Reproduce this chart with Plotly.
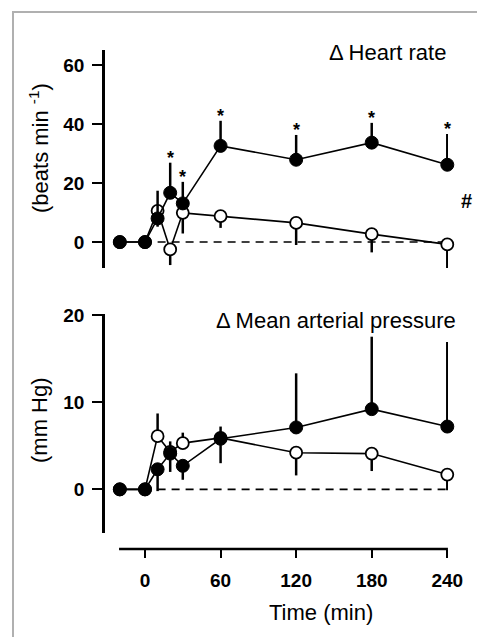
import plotly.graph_objects as go

# ---- data ----
time_min = [-20, 0, 10, 20, 30, 60, 120, 180, 240]

hr_filled = [0, 0, 8.0, 16.7, 13.1, 32.6, 27.9, 33.7, 26.2]
hr_filled_err_up = [0, 0, 9.4, 10.2, 7.3, 8.5, 8.4, 6.7, 10.4]
hr_open = [0, 0, 10.6, -2.5, 9.9, 8.8, 6.5, 2.7, -0.8]
hr_open_err_down = [0, 0, 5.4, 5.3, 7.0, 4.0, 7.5, 6.2, 8.1]

map_filled = [0, 0, 2.3, 4.1, 2.7, 5.8, 7.1, 9.2, 7.2]
map_filled_err_up = [0, 0, 0, 1.4, 0, 1.4, 6.2, 8.3, 9.7]
map_filled_err_down = [0, 0, 2.5, 2.1, 1.6, 0, 0, 0, 0]
map_open = [0, 0, 6.1, 4.3, 5.3, 5.9, 4.2, 4.1, 1.7]
map_open_err_up = [0, 0, 2.6, 0, 1.2, 0, 0, 0, 0]
map_open_err_down = [0, 0, 0, 0, 0, 2.9, 2.6, 2.0, 1.8]

star_times = [20, 30, 60, 120, 180, 240]
x_ticks = [0, 60, 120, 180, 240]

FONT = "Liberation Sans, Arial, sans-serif"

fig = go.Figure()

def err(plus, minus):
    return dict(type="data", symmetric=False, array=plus, arrayminus=minus,
                color="black", thickness=2.5, width=0)

zeros = [0] * len(time_min)
open_marker = dict(symbol="circle", size=12, color="white", line=dict(color="black", width=1.8))
filled_marker = dict(symbol="circle", size=13, color="black", line=dict(color="black", width=1))
line_style = dict(color="black", width=1.6)

# top panel
fig.add_trace(go.Scatter(x=time_min, y=hr_open, mode="lines+markers", marker=open_marker,
                         line=line_style, error_y=err(zeros, hr_open_err_down),
                         xaxis="x", yaxis="y", cliponaxis=False, showlegend=False))
fig.add_trace(go.Scatter(x=time_min, y=hr_filled, mode="lines+markers", marker=filled_marker,
                         line=line_style, error_y=err(hr_filled_err_up, zeros),
                         xaxis="x", yaxis="y", cliponaxis=False, showlegend=False))
# bottom panel
fig.add_trace(go.Scatter(x=time_min, y=map_open, mode="lines+markers", marker=open_marker,
                         line=line_style, error_y=err(map_open_err_up, map_open_err_down),
                         xaxis="x", yaxis="y2", cliponaxis=False, showlegend=False))
fig.add_trace(go.Scatter(x=time_min, y=map_filled, mode="lines+markers", marker=filled_marker,
                         line=line_style, error_y=err(map_filled_err_up, map_filled_err_down),
                         xaxis="x", yaxis="y2", cliponaxis=False, showlegend=False))

annotations = []
for t in star_times:
    i = time_min.index(t)
    annotations.append(dict(x=t, y=hr_filled[i] + hr_filled_err_up[i], xref="x", yref="y",
                            text="<b>*</b>", showarrow=False, xanchor="center", yanchor="middle",
                            yshift=5, font=dict(family=FONT, size=18, color="black")))

def label(x, y, text, size=22, angle=0):
    return dict(x=x, y=y, xref="paper", yref="paper", text=text, showarrow=False,
                xanchor="center", yanchor="middle", textangle=angle,
                font=dict(family=FONT, size=size, color="black"))

annotations += [
    label(0.8236, 0.9946, "Δ Heart rate"),
    label(0.6729, 0.4575, "Δ Mean arterial pressure"),
    label(-0.1924, 0.8036, "(beats min <sup>-1</sup>)", angle=-90),
    label(-0.1924, 0.2585, "(mm Hg)", angle=-90),
    label(0.629, -0.1263, "Time (min)"),
    label(1.0525, 0.6974, "<b>#</b>", size=20),
]

shapes = [
    # outer gray frame
    dict(type="rect", xref="paper", yref="paper", x0=-0.2682, x1=1.2, y0=-0.25, y1=1.0762,
         line=dict(color="#b0b0b0", width=2), layer="below"),
    # dashed zero lines
    dict(type="line", xref="x", yref="y", x0=10, x1=240, y0=0, y1=0,
         line=dict(color="black", width=1.6, dash="8px,6px"), layer="below"),
    dict(type="line", xref="x", yref="y2", x0=10, x1=240, y0=0, y1=0,
         line=dict(color="black", width=1.6, dash="8px,6px"), layer="below"),
    # time axis line
    dict(type="line", xref="x", yref="paper", x0=-20.6, x1=240.5, y0=0, y1=0,
         line=dict(color="black", width=2.5)),
]

tickfont = dict(family=FONT, size=19, color="black", weight="bold")

fig.update_layout(
    width=477, height=637,
    margin=dict(l=105, r=29, t=50, b=88),
    paper_bgcolor="white", plot_bgcolor="white",
    xaxis=dict(range=[-31.76, 240.56], anchor="free", position=0, showline=False,
               showgrid=False, zeroline=False, ticks="outside", ticklen=8, tickwidth=2,
               tickcolor="black", tickvals=x_ticks, tickfont=tickfont, ticklabelstandoff=6),
    yaxis=dict(domain=[0.5631, 1.0], range=[-8.8, 65.1], anchor="x", showline=True,
               linewidth=2.5, linecolor="black", showgrid=False, zeroline=False,
               ticks="outside", ticklen=10, tickwidth=2, tickcolor="black",
               tickvals=[0, 20, 40, 60], tickfont=tickfont, ticklabelstandoff=4),
    yaxis2=dict(domain=[0.0321, 0.4709], range=[-5.0, 20.1], anchor="x", showline=True,
                linewidth=2.5, linecolor="black", showgrid=False, zeroline=False,
                ticks="outside", ticklen=10, tickwidth=2, tickcolor="black",
                tickvals=[0, 10, 20], tickfont=tickfont, ticklabelstandoff=4),
    annotations=annotations,
    shapes=shapes,
)

fig.write_html("out.html")
